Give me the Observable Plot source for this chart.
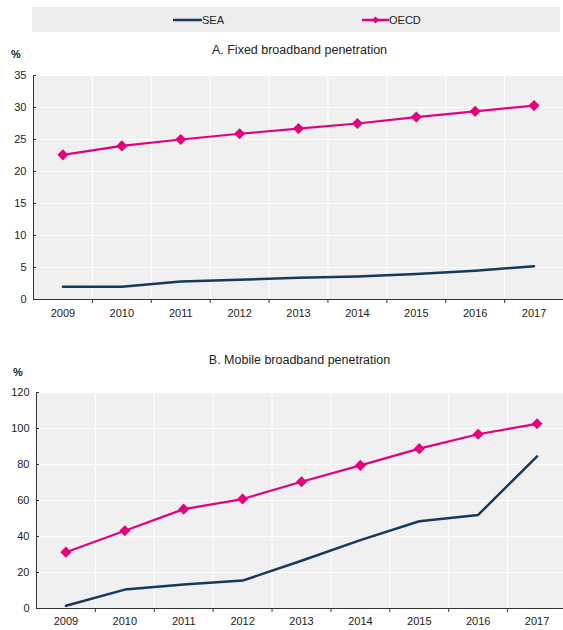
<!DOCTYPE html>
<html>
<head>
<meta charset="utf-8">
<script src="https://cdn.jsdelivr.net/npm/d3@7"></script>
<script src="https://cdn.jsdelivr.net/npm/@observablehq/plot@0.6"></script>
<style>
  html, body { margin: 0; padding: 0; background: #fff; }
  body { width: 563px; height: 630px; position: relative; overflow: hidden;
         font-family: "Liberation Sans", Arial, sans-serif; color: #222; }
  .abs { position: absolute; }
  .legend { left: 32px; top: 7px; width: 528px; height: 25px; background: #ededed; }
  .legend .item { position: absolute; top: 0; height: 25px; display: flex; align-items: center; font-size: 11px; }
  .title { font-size: 12.5px; width: 563px; text-align: center; left: 18px; }
  .unit { font-size: 11px; font-weight: bold; }
  svg { overflow: visible; }
</style>
</head>
<body>
<script>
// Broadband penetration, South-East Asia vs OECD, subscriptions per 100 inhabitants
const years = [2009, 2010, 2011, 2012, 2013, 2014, 2015, 2016, 2017];
const fixedSEA = [2.0, 2.0, 2.8, 3.1, 3.4, 3.6, 4.0, 4.5, 5.2];
const fixedOECD = [22.6, 24.0, 25.0, 25.9, 26.7, 27.5, 28.5, 29.4, 30.3];
const mobileSEA = [1.5, 10.5, 13.3, 15.5, 26.5, 38.0, 48.5, 52.0, 84.5];
const mobileOECD = [31.3, 43.2, 55.2, 60.8, 70.4, 79.5, 88.8, 96.8, 102.6];
const fixedTicks = [0, 5, 10, 15, 20, 25, 30, 35];
const mobileTicks = [0, 20, 40, 60, 80, 100, 120];
const seriesNames = ["SEA", "OECD"];
const seriesColors = ["#17395c", "#e5007d"];

const boundaries = years.slice(0, -1).map(y => y + 0.5);

function rows(sea, oecd) {
  return years.flatMap((year, i) => [
    {year, value: sea[i], series: "SEA"},
    {year, value: oecd[i], series: "OECD"}
  ]);
}

function panel({data, ticks, height, marginTop, marginBottom, marginLeft, marginRight, xPad}) {
  const oecd = data.filter(d => d.series === "OECD");
  const sea = data.filter(d => d.series === "SEA");
  return Plot.plot({
    width: 563,
    height,
    marginTop, marginBottom, marginLeft, marginRight,
    style: {fontFamily: "Liberation Sans, Arial, sans-serif", fontSize: "11px", color: "#222", background: "transparent"},
    x: {domain: [years[0] - 0.5, years[years.length - 1] + 0.5]},
    y: {domain: [ticks[0], ticks[ticks.length - 1]]},
    marks: [
      Plot.frame({fill: "#f0f0f0", stroke: null}),
      Plot.gridY(ticks, {stroke: "#fff", strokeOpacity: 1, strokeWidth: 1}),
      Plot.gridX(boundaries, {stroke: "#fff", strokeOpacity: 1, strokeWidth: 1}),
      Plot.axisY(ticks, {tickSize: 0, tickPadding: 7, label: null, fill: "#222"}),
      Plot.axisY(ticks, {tickSize: -3, tickFormat: () => "", label: null, stroke: "#333"}),
      Plot.axisX(years, {tickSize: 0, tickPadding: xPad, tickFormat: d => String(d), label: null, fill: "#222"}),
      Plot.axisX(boundaries, {tickSize: 4, tickFormat: () => "", label: null, stroke: "#333"}),
      Plot.ruleX([years[0] - 0.5], {stroke: "#333"}),
      Plot.ruleY([ticks[0]], {stroke: "#333"}),
      Plot.line(sea, {x: "year", y: "value", stroke: seriesColors[0], strokeWidth: 2.5}),
      Plot.line(oecd, {x: "year", y: "value", stroke: seriesColors[1], strokeWidth: 2.2}),
      Plot.dot(oecd, {x: "year", y: "value", symbol: "diamond2", r: 5, fill: seriesColors[1], stroke: null})
    ]
  });
}

// Legend
const legend = document.createElement("div");
legend.className = "abs legend";
const swatchPos = [[141, 29], [330, 27]];
seriesNames.forEach((name, i) => {
  const item = document.createElement("div");
  item.className = "item";
  item.style.left = swatchPos[i][0] + "px";
  const w = swatchPos[i][1];
  const marker = i === 1
    ? `<path d="M${w/2},-3.5L${w/2+3.5},0L${w/2},3.5L${w/2-3.5},0Z" fill="${seriesColors[i]}"/>` : "";
  item.innerHTML = `<svg width="${w}" height="10" viewBox="0 -5 ${w} 10" style="overflow:visible"><line x1="0" x2="${w}" y1="0" y2="0" stroke="${seriesColors[i]}" stroke-width="2.5"/>${marker}</svg><span>${name}</span>`;
  legend.appendChild(item);
});
document.body.appendChild(legend);

function addText(cls, text, left, top) {
  const el = document.createElement("div");
  el.className = "abs " + cls;
  el.textContent = text;
  if (left !== null) el.style.left = left + "px";
  el.style.top = top + "px";
  document.body.appendChild(el);
}

addText("title", "A. Fixed broadband penetration", null, 43);
addText("unit", "%", 11, 48);
addText("title", "B. Mobile broadband penetration", null, 353);
addText("unit", "%", 13, 366);

const chartA = panel({data: rows(fixedSEA, fixedOECD), ticks: fixedTicks, height: 266,
  marginTop: 13, marginBottom: 29, marginLeft: 33, marginRight: 0, xPad: 10});
chartA.classList.add("abs");
chartA.style.left = "0px";
chartA.style.top = "62px";
document.body.appendChild(chartA);

const chartB = panel({data: rows(mobileSEA, mobileOECD), ticks: mobileTicks, height: 250,
  marginTop: 12, marginBottom: 22, marginLeft: 36, marginRight: -3, xPad: 9});
chartB.classList.add("abs");
chartB.style.left = "0px";
chartB.style.top = "380px";
document.body.appendChild(chartB);
</script>
</body>
</html>
